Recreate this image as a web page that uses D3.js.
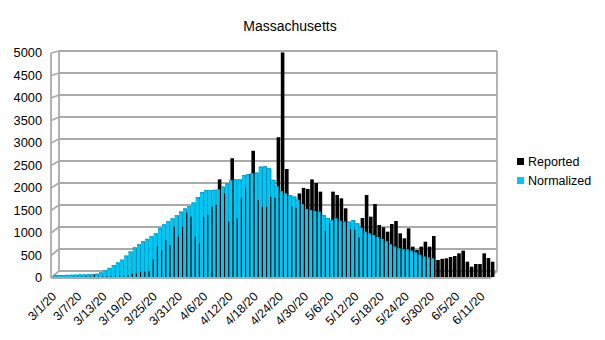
<!DOCTYPE html>
<html>
<head>
<meta charset="utf-8">
<script src="https://cdn.jsdelivr.net/npm/d3@7"></script>
<style>
  body { margin: 0; background: #fff; }
  text { font-family: "Liberation Sans", Arial, sans-serif; fill: #000; }
</style>
</head>
<body>
<div id="chart"></div>
<script>
// day-by-day values, 3/1/20 .. 6/13/20
var startDate = new Date(2020, 2, 1);
var dayCount = 105;

var reported = [
  0, 1, 0, 0, 1, 6, 5, 15, 13, 51,
  3, 13, 15, 15, 26, 33, 21, 38, 72, 85,
  115, 121, 131, 382, 667, 594, 814, 704, 1108, 888,
  1108, 1416, 1329, 888, 742, 1329, 1365, 1550, 1588, 2151,
  1843, 1219, 2615, 1292, 1733, 1954, 2263, 2780, 1696, 1550,
  1550, 1769, 1745, 3079, 4946, 2379, 1550, 1524, 1840, 1963,
  1940, 2150, 2070, 1880, 1010, 1184, 1880, 1806, 1733, 1513,
  1050, 1042, 870, 1300, 1806, 1329, 1608, 1146, 1094, 998,
  1168, 1234, 962, 852, 1072, 668, 594, 668, 777, 668,
  903, 374, 400, 411, 440, 462, 521, 580, 337, 227,
  286, 286, 521, 418, 337
];

var normalized = [
  40, 42, 44, 46, 48, 50, 52, 55, 58, 62,
  70, 100, 150, 200, 260, 320, 380, 470, 560, 650,
  720, 790, 840, 900, 960, 1080, 1160, 1230, 1290, 1360,
  1440, 1510, 1560, 1640, 1760, 1870, 1916, 1916, 1920, 1930,
  1990, 2064, 2137, 2150, 2150, 2247, 2260, 2284, 2300, 2430,
  2440, 2394, 2140, 2000, 1895, 1843, 1806, 1770, 1700, 1600,
  1500, 1476, 1450, 1440, 1366, 1300, 1256, 1292, 1240, 1219,
  1219, 1256, 1183, 1087, 998, 960, 925, 880, 840, 790,
  720, 668, 630, 615, 605, 580, 540, 490, 450, 430,
  411
];

var yTicks = [0, 500, 1000, 1500, 2000, 2500, 3000, 3500, 4000, 4500, 5000];
var seriesNames = ["Reported", "Normalized"];
var seriesColors = ["#000000", "#00c8f5"];

var days = d3.range(dayCount).map(function (i) {
  return d3.timeDay.offset(startDate, i);
});
var fmt = function (d) {
  return (d.getMonth() + 1) + "/" + d.getDate() + "/20";
};
var labelDays = days.filter(function (d, i) { return i % 6 === 0; });

var width = 605, height = 340;
var svg = d3.select("#chart").append("svg")
  .attr("width", width).attr("height", height);

var x = d3.scaleBand().domain(days).range([53, 494]).paddingInner(0);
var yBar = d3.scaleLinear().domain([0, 5000]).range([277, 50]);
var yBack = d3.scaleLinear().domain([0, 5000]).range([271, 51]);
var yFront = d3.scaleLinear().domain([0, 5000]).range([278, 53]);

var frontLeft = 51, backLeft = 59, backRight = 497, frontRight = 490;

// walls and grid
var grid = svg.append("g").attr("stroke", "#aaaaaa").attr("stroke-width", 1.8).attr("fill", "none");
grid.selectAll("line.back").data(yTicks).enter().append("line")
  .attr("x1", backLeft).attr("x2", backRight)
  .attr("y1", function (d) { return yBack(d); })
  .attr("y2", function (d) { return yBack(d); });
grid.selectAll("line.side").data(yTicks).enter().append("line")
  .attr("x1", frontLeft).attr("x2", backLeft)
  .attr("y1", function (d) { return yFront(d); })
  .attr("y2", function (d) { return yBack(d); });
grid.append("line").attr("x1", frontLeft).attr("x2", frontLeft)
  .attr("y1", yFront(0)).attr("y2", yFront(5000));
grid.append("line").attr("x1", backLeft).attr("x2", backLeft)
  .attr("y1", yBack(0)).attr("y2", yBack(5000));
grid.append("line").attr("x1", backRight).attr("x2", backRight)
  .attr("y1", yBack(0)).attr("y2", yBack(5000));
grid.append("path")
  .attr("d", "M" + frontLeft + "," + yFront(0) + "L" + frontRight + "," + yFront(0) +
    "L" + backRight + "," + yBack(0));

// bars: dark cyan side, black reported, bright cyan front face
var bw = x.bandwidth();
var bars = svg.append("g");
bars.selectAll("rect.side").data(normalized).enter().append("rect")
  .attr("x", function (d, i) { return x(days[i]); })
  .attr("width", bw)
  .attr("y", function (d) { return yBar(d); })
  .attr("height", function (d) { return yBar(0) - yBar(d); })
  .attr("fill", "#0795bd");
bars.selectAll("rect.rep").data(reported).enter().append("rect")
  .attr("x", function (d, i) { return x(days[i]) + 1; })
  .attr("width", bw - 0.6)
  .attr("y", function (d) { return yBar(d); })
  .attr("height", function (d) { return yBar(0) - yBar(d); })
  .attr("fill", seriesColors[0]);
bars.selectAll("rect.norm").data(normalized).enter().append("rect")
  .attr("x", function (d, i) { return x(days[i]); })
  .attr("width", bw - 1.2)
  .attr("y", function (d) { return yBar(d); })
  .attr("height", function (d) { return yBar(0) - yBar(d); })
  .attr("fill", seriesColors[1]);
bars.selectAll("rect.normtop").data(normalized).enter().append("rect")
  .attr("x", function (d, i) { return x(days[i]); })
  .attr("width", bw - 1.2)
  .attr("y", function (d) { return yBar(d); })
  .attr("height", 1)
  .attr("fill", "#0aa3cc");

// y labels
svg.append("g").selectAll("text").data(yTicks).enter().append("text")
  .attr("x", 42).attr("y", function (d) { return yFront(d); })
  .attr("dy", "0.35em").attr("text-anchor", "end")
  .style("font-size", "12.8px")
  .text(function (d) { return d; });

// x labels
svg.append("g").selectAll("text").data(labelDays).enter().append("text")
  .attr("transform", function (d) {
    return "translate(" + (x(d) + bw / 2 - 1) + ",294) rotate(-45)";
  })
  .attr("text-anchor", "end")
  .attr("dy", "0.35em")
  .style("font-size", "12.3px")
  .text(fmt);

// title
svg.append("text").attr("x", 290).attr("y", 31).attr("text-anchor", "middle")
  .style("font-size", "14px").text("Massachusetts");

// legend
var legend = svg.append("g").selectAll("g").data(seriesNames).enter().append("g")
  .attr("transform", function (d, i) { return "translate(517," + (158 + i * 19) + ")"; });
legend.append("rect").attr("width", 7).attr("height", 7)
  .attr("fill", function (d, i) { return seriesColors[i]; });
legend.append("text").attr("x", 11).attr("y", 3.5).attr("dy", "0.35em")
  .style("font-size", "12.5px").text(function (d) { return d; });
</script>
</body>
</html>
